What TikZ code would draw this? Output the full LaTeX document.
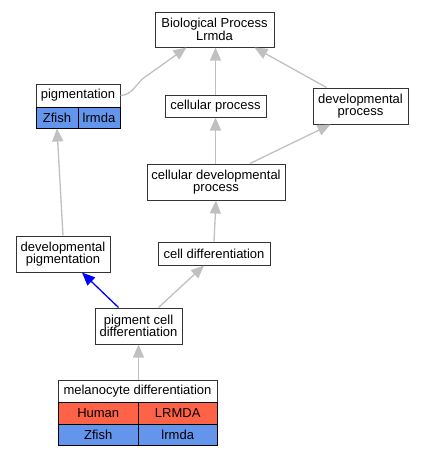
\documentclass[tikz,border=0pt]{standalone}
\usepackage{fontspec}
\setmainfont{Liberation Sans}
\usetikzlibrary{arrows.meta}
\definecolor{edgegray}{HTML}{C0C0C0}
\definecolor{zfishblue}{HTML}{6495ED}
\definecolor{humanred}{HTML}{FF6347}
\tikzset{
  term/.style={draw=black!80, line width=1pt, fill=white, align=center, inner sep=0pt, font=\fontsize{13}{12.6}\selectfont},
  zcell/.style={term, fill=zfishblue, draw=black},
  hcell/.style={term, fill=humanred, draw=black},
  isa/.style={draw=edgegray, line width=1.3pt, -{Triangle[length=13pt,width=11pt]}},
  partof/.style={draw=blue, line width=1.3pt, -{Triangle[length=13pt,width=11pt]}},
}
\begin{document}
\begin{tikzpicture}[x=1pt,y=1pt,yscale=-1]
\useasboundingbox (0,0) rectangle (423,456);
% terms
\node[term, minimum width=119pt, minimum height=35pt] (bp) at (214.5,29.5) {Biological Process\\Lrmda};
\node[term, minimum width=84pt, minimum height=23pt] (pig) at (78,95.5) {pigmentation};
\node[zcell, minimum width=42pt, minimum height=21pt] (pigZ) at (57,117.5) {Zfish};
\node[zcell, minimum width=42pt, minimum height=21pt] (pigZg) at (99,117.5) {lrmda};
\node[term, minimum width=101pt, minimum height=22pt] (cp) at (215.5,106) {cellular process};
\node[term, minimum width=95pt, minimum height=36pt] (dp) at (360.5,106) {developmental\\process};
\node[term, minimum width=138pt, minimum height=36pt] (cdp) at (216,182) {cellular developmental\\process};
\node[term, minimum width=94pt, minimum height=36pt] (devpig) at (63,254) {developmental\\pigmentation};
\node[term, minimum width=112pt, minimum height=23pt] (cd) at (214,253.5) {cell differentiation};
\node[term, minimum width=87pt, minimum height=36pt] (pcd) at (138.5,326) {pigment cell\\differentiation};
\node[term, minimum width=159pt, minimum height=22pt] (md) at (137.5,391) {melanocyte differentiation};
\node[hcell, minimum width=80.5pt, minimum height=22pt] (mdH) at (98.25,413) {Human};
\node[hcell, minimum width=78.5pt, minimum height=22pt] (mdHg) at (177.75,413) {LRMDA};
\node[zcell, minimum width=80.5pt, minimum height=21pt] (mdZ) at (98.25,434.5) {Zfish};
\node[zcell, minimum width=78.5pt, minimum height=21pt] (mdZg) at (177.75,434.5) {lrmda};
% is_a links
\draw[isa] (pig.east) .. controls (133,95) and (137,82) .. (145,77) -- ([xshift=-28pt]bp.south);
\draw[isa] (cp.north) -- (cp.north |- bp.south);
\draw[isa] ([xshift=-34pt]dp.north) -- ([xshift=40pt]bp.south);
\draw[isa] (cp.south |- cdp.north) -- (cp.south);
\draw[isa] ([xshift=34pt]cdp.north) -- ([xshift=-30pt]dp.south);
\draw[isa] (devpig.north) -- (pigZ.south);
\draw[isa] (cd.north) -- (cdp.south);
\draw[isa] ([xshift=20pt]pcd.north) -- ([xshift=-10pt]cd.south);
\draw[isa] (pcd.south |- md.north) -- (pcd.south);
% part_of link
\draw[partof] ([xshift=-20pt]pcd.north) -- ([xshift=19pt]devpig.south);
\end{tikzpicture}
\end{document}
